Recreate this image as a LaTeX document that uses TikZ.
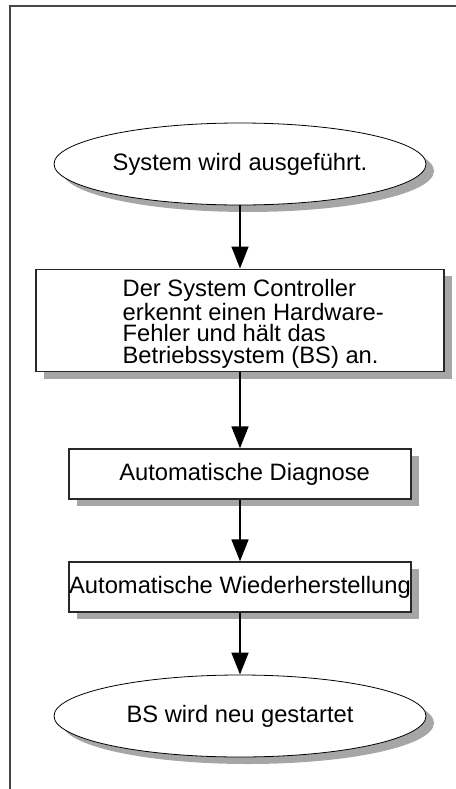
\documentclass[tikz,border=0pt]{standalone}
\usepackage{fontspec}
\setmainfont{Liberation Sans}
\usetikzlibrary{shapes.geometric,arrows.meta,shadows}
\definecolor{shadowgray}{RGB}{166,166,166}
\definecolor{framegray}{RGB}{70,70,70}
\begin{document}
\begin{tikzpicture}[x=0.75pt,y=0.75pt,yscale=-1,xscale=1,
  every node/.style={font=\fontsize{17.8}{16}\selectfont},
  boxshadow/.style={drop shadow={shadow xshift=6pt,shadow yshift=-5.25pt,fill=shadowgray,opacity=1}},
  termin/.style={ellipse,draw=black,line width=0.6pt,fill=white,minimum width=279pt,minimum height=61.5pt,inner sep=0pt,boxshadow},
  stepbox/.style={rectangle,draw={rgb, 255:red, 40; green, 40; blue, 40 },line width=0.9pt,fill=white,inner sep=0pt,boxshadow},
  flowarrow/.style={draw=black,line width=2pt,-{Triangle[length=16.5pt,width=12.5pt]}}]
\useasboundingbox (0,0) rectangle (456,789);

%Straight Lines [id:frame]
\draw [color=framegray,line width=1.3pt] (456,6) -- (10,6) -- (10,789) ;

%Shape: Ellipse [id:start]
\draw (240,164) node [termin] (start) {System wird ausgeführt.};

%Shape: Rectangle [id:detect]
\draw (240,320.5) node [stepbox,minimum width=306pt,minimum height=77pt] (detect) {\parbox{306pt}{\vspace*{5pt}\raggedright\leftskip=65pt\baselineskip=16pt Der System Controller\\erkennt einen Hardware-\\Fehler und hält das\\Betriebssystem (BS) an.}};

%Shape: Rectangle [id:diag]
\draw (240,474) node [stepbox,minimum width=256.5pt,minimum height=37.5pt] (diag) {\hspace{7pt}Automatische Diagnose};

%Shape: Rectangle [id:recover]
\draw (240,587) node [stepbox,minimum width=256.5pt,minimum height=37.5pt] (recover) {Automatische Wiederherstellung};

%Shape: Ellipse [id:reboot]
\draw (240,716) node [termin] (reboot) {BS wird neu gestartet};

%Straight Lines [id:arrows]
\draw [flowarrow] (start) -- (detect) ;
\draw [flowarrow] (detect) -- (diag) ;
\draw [flowarrow] (diag) -- (recover) ;
\draw [flowarrow] (recover) -- (reboot) ;

\end{tikzpicture}
\end{document}
